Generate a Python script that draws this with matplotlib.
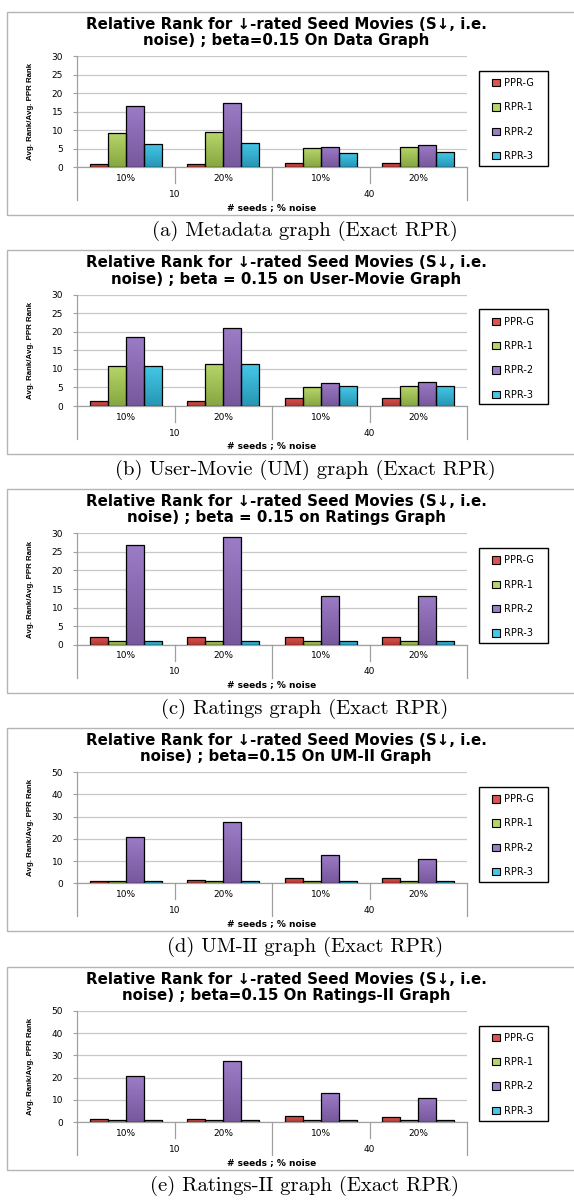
import numpy as np
import matplotlib
matplotlib.use("Agg")
from matplotlib import pyplot as plt
from matplotlib.colors import LinearSegmentedColormap
from matplotlib.patches import Rectangle, Patch

# ---- data -------------------------------------------------------------
series = ["PPR-G", "RPR-1", "RPR-2", "RPR-3"]
noise_labels = ["10%", "20%", "10%", "20%"]
seed_labels = ["10", "40"]

meta_pprg = [0.9, 0.9, 1.1, 1.1]
meta_rpr1 = [9.2, 9.4, 5.1, 5.4]
meta_rpr2 = [16.5, 17.3, 5.6, 6.0]
meta_rpr3 = [6.2, 6.5, 3.8, 4.0]

um_pprg = [1.4, 1.4, 2.2, 2.2]
um_rpr1 = [10.9, 11.4, 5.0, 5.3]
um_rpr2 = [18.7, 20.9, 6.3, 6.6]
um_rpr3 = [10.9, 11.2, 5.3, 5.5]

rat_pprg = [2.2, 2.2, 2.2, 2.0]
rat_rpr1 = [0.9, 0.9, 0.9, 0.9]
rat_rpr2 = [27.0, 29.0, 13.2, 13.2]
rat_rpr3 = [0.9, 0.9, 1.1, 1.1]

um2_pprg = [1.3, 1.5, 2.5, 2.4]
um2_rpr1 = [1.0, 1.0, 1.0, 1.0]
um2_rpr2 = [20.7, 27.4, 12.8, 11.0]
um2_rpr3 = [1.0, 1.0, 1.0, 1.0]

rat2_pprg = [1.3, 1.3, 2.7, 2.2]
rat2_rpr1 = [1.0, 1.0, 1.0, 1.0]
rat2_rpr2 = [20.6, 27.3, 13.0, 11.0]
rat2_rpr3 = [1.0, 1.0, 1.0, 1.0]

head = "Relative Rank for \u2193-rated Seed Movies (S\u2193, i.e.\n"
titles = [head + "noise) ; beta=0.15 On Data Graph",
          head + "noise) ; beta = 0.15 on User-Movie Graph",
          head + "noise) ; beta = 0.15 on Ratings Graph",
          head + "noise) ; beta=0.15 On UM-II Graph",
          head + "noise) ; beta=0.15 On Ratings-II Graph"]
captions = ["(a) Metadata graph (Exact RPR)",
            "(b) User-Movie (UM) graph (Exact RPR)",
            "(c) Ratings graph (Exact RPR)",
            "(d) UM-II graph (Exact RPR)",
            "(e) Ratings-II graph (Exact RPR)"]
ymaxes = [30, 30, 30, 50, 50]
ysteps = [5, 5, 5, 10, 10]

panels = [[meta_pprg, meta_rpr1, meta_rpr2, meta_rpr3],
          [um_pprg, um_rpr1, um_rpr2, um_rpr3],
          [rat_pprg, rat_rpr1, rat_rpr2, rat_rpr3],
          [um2_pprg, um2_rpr1, um2_rpr2, um2_rpr3],
          [rat2_pprg, rat2_rpr1, rat2_rpr2, rat2_rpr3]]

# (top, bottom) gradient colours
grad_cols = [("#e0534c", "#b23a35"),
             ("#b7d66a", "#86a641"),
             ("#9b7cc6", "#77589c"),
             ("#45c8e8", "#2796b4")]

W, H = 574, 1200
fig = plt.figure(figsize=(W / 100, H / 100), dpi=100)

def fx(x):
    return x / W

def fy(y):
    return 1 - y / H

ax_l, ax_r = 77, 467
bar_w = 0.185
grad = np.linspace(0, 1, 64).reshape(-1, 1)

for p in range(5):
    T = 11.7 + p * 238.7
    ax_t, ax_b = T + 44.3, T + 155.6
    ax_h = ax_b - ax_t
    ax = fig.add_axes([fx(ax_l), fy(ax_b), fx(ax_r) - fx(ax_l), (ax_b - ax_t) / H])

    # panel frame
    fig.patches.append(Rectangle((fx(7), fy(T + 203.5)), fx(582) - fx(7), 203.5 / H,
                                 transform=fig.transFigure, fill=False,
                                 edgecolor="#b4b4b4", lw=1.0))

    x = np.arange(4) + 0.5
    handles = []
    for k, vals in enumerate(panels[p]):
        xs = x + (k - 1.5) * bar_w
        bars = ax.bar(xs, vals, bar_w, facecolor="none", edgecolor="black",
                      lw=0.9, zorder=4)
        cmap = LinearSegmentedColormap.from_list("g%d" % k, [grad_cols[k][1], grad_cols[k][0]])
        for b in bars:
            im = ax.imshow(grad, extent=(b.get_x(), b.get_x() + b.get_width(), 0, b.get_height()),
                           origin="lower", aspect="auto", cmap=cmap, zorder=3)
            im.set_clip_path(b)
        handles.append(Patch(facecolor=grad_cols[k][0], edgecolor="black", lw=0.8))

    ax.set_xlim(0, 4)
    ax.set_ylim(0, ymaxes[p])
    ax.set_aspect("auto")
    ax.set_yticks(np.arange(0, ymaxes[p] + 1, ysteps[p]))
    ax.set_xticks([])
    ax.tick_params(axis="y", labelsize=6.5, length=3, width=0.8, color="#a0a0a0", pad=7)
    ax.yaxis.grid(True, color="#c8c8c8", lw=0.9)
    ax.set_axisbelow(True)
    for s in ["top", "right"]:
        ax.spines[s].set_visible(False)
    for s in ["left", "bottom"]:
        ax.spines[s].set_color("#a0a0a0")
        ax.spines[s].set_linewidth(0.9)

    # multi level category axis
    tr = ax.get_xaxis_transform()
    for xv in [1, 3]:
        ax.plot([xv, xv], [0, -16 / ax_h], color="#a0a0a0", lw=0.9, transform=tr, clip_on=False)
    for xv in [0, 2, 4]:
        ax.plot([xv, xv], [0, -33 / ax_h], color="#a0a0a0", lw=0.9, transform=tr, clip_on=False)
    for i, lab in enumerate(noise_labels):
        ax.text(i + 0.5, -11 / ax_h, lab, transform=tr, ha="center", va="center", fontsize=6.5)
    for i, lab in enumerate(seed_labels):
        ax.text(2 * i + 1, -27 / ax_h, lab, transform=tr, ha="center", va="center", fontsize=6.5)
    ax.text(2, -40 / ax_h, "# seeds ; % noise", transform=tr, ha="center", va="center",
            fontsize=6.5, fontweight="bold")

    fig.text(fx(31), fy((ax_t + ax_b) / 2), "Avg. Rank/Avg. PPR Rank", rotation=90,
             ha="center", va="center", fontsize=5.7, fontweight="bold",
             family=["Liberation Sans", "DejaVu Sans"])

    fig.text(fx(286), fy(T + 20.6), titles[p], ha="center", va="center",
             fontsize=10.8, fontweight="bold", linespacing=1.1)

    # legend
    ax.legend(handles, series, frameon=False, loc="center",
              bbox_to_anchor=(fx(513), fy(T + 107.8)), bbox_transform=fig.transFigure,
              fontsize=7, handlelength=0.8, handleheight=0.8, handletextpad=0.4,
              labelspacing=1.47)
    fig.patches.append(Rectangle((fx(479), fy(T + 154)), fx(548) - fx(479), 95 / H,
                                 transform=fig.transFigure, fill=False,
                                 edgecolor="black", lw=1.0))

    fig.text(fx(305), fy(T + 219.5), captions[p], ha="center", va="center",
             fontsize=14.9, family="cmr10")

fig.savefig("out.png", dpi=100)
